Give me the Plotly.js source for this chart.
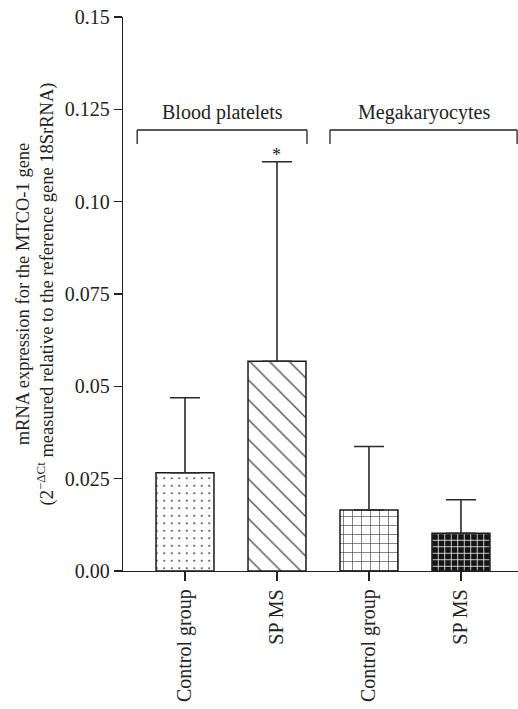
<!DOCTYPE html>
<html>
<head>
<meta charset="utf-8">
<script src="https://cdn.plot.ly/plotly-3.0.1.min.js"></script>
<style>html,body{margin:0;padding:0;background:#fff}#chart{width:518px;height:709px}</style>
</head>
<body>
<div id="chart"></div>
<script>
const categories = ["Control group", "SP MS", "Control group ", "SP MS "];
const tickLabels = ["Control group", "SP MS", "Control group", "SP MS"];
const means = [0.0266, 0.0568, 0.0165, 0.0102];
const sdUpper = [0.0203, 0.0540, 0.0172, 0.0091];
const groupNames = ["Blood platelets", "Megakaryocytes"];
const yTickVals = [0, 0.025, 0.05, 0.075, 0.10, 0.125, 0.15];
const yTickText = ["0.00", "0.025", "0.05", "0.075", "0.10", "0.125", "0.15"];
const significance = ["", "*", "", ""];

const FONT = "Liberation Serif, Times New Roman, serif";
const xIdx = categories.map((_, i) => i);

const trace = {
  type: "bar",
  x: xIdx,
  y: means,
  width: 0.63,
  marker: {
    color: ["#ffffff", "#ffffff", "#ffffff", "#151515"],
    line: {color: "#1a1a1a", width: 1.5},
    pattern: {
      shape: [".", "\\", "+", "+"],
      fgcolor: ["#000", "#000", "#000", "#ffffff"],
      bgcolor: ["#ffffff", "#ffffff", "#ffffff", "#151515"],
      fgopacity: 1,
      size: [7.5, 14, 9, 6.5],
      solidity: [0.06, 0.09, 0.14, 0.22],
      fillmode: "overlay"
    }
  },
  error_y: {
    type: "data",
    symmetric: false,
    array: sdUpper,
    arrayminus: [0, 0, 0, 0],
    color: "#2a2a2a",
    thickness: 1.6,
    width: 15
  },
  hoverinfo: "skip"
};

const shapes = [];
const annotations = [];
const brackets = [[-0.52, 1.326], [1.576, 3.61]];
brackets.forEach((b, i) => {
  shapes.push({type: "line", xref: "x", yref: "y", x0: b[0], x1: b[0], y0: 0.1156, y1: 0.1194, line: {color: "#222", width: 1.3}});
  shapes.push({type: "line", xref: "x", yref: "y", x0: b[0], x1: b[1], y0: 0.1194, y1: 0.1194, line: {color: "#222", width: 1.3}});
  shapes.push({type: "line", xref: "x", yref: "y", x0: b[1], x1: b[1], y0: 0.1156, y1: 0.1194, line: {color: "#222", width: 1.3}});
  annotations.push({x: (b[0] + b[1]) / 2, y: 0.1242, xref: "x", yref: "y", text: groupNames[i], showarrow: false, font: {family: FONT, size: 20, color: "#222"}});
});
significance.forEach((s, i) => {
  if (s) annotations.push({x: i, y: means[i] + sdUpper[i], xref: "x", yref: "y", text: s, showarrow: false, yanchor: "bottom", yshift: -5, font: {family: FONT, size: 18, color: "#222"}});
});

const layout = {
  width: 518, height: 709,
  margin: {l: 123, r: 0, t: 17, b: 138},
  paper_bgcolor: "#fff", plot_bgcolor: "#fff",
  showlegend: false,
  font: {family: FONT, size: 20, color: "#222"},
  xaxis: {
    range: [-0.674, 3.62],
    tickvals: xIdx, ticktext: tickLabels,
    tickangle: -90,
    ticks: "outside", ticklen: 9, tickwidth: 1.3, tickcolor: "#222",
    showline: true, linecolor: "#222", linewidth: 1.3,
    showgrid: false, zeroline: false,
    tickfont: {family: FONT, size: 20, color: "#222"}
  },
  yaxis: {
    range: [0, 0.15],
    tickvals: yTickVals, ticktext: yTickText,
    ticks: "outside", ticklen: 8, tickwidth: 1.3, tickcolor: "#222",
    showline: true, linecolor: "#222", linewidth: 1.3,
    showgrid: false, zeroline: false,
    tickfont: {family: FONT, size: 20, color: "#222"},
    title: {
      text: "mRNA expression for the MTCO-1 gene<br>(2<sup>−ΔCt</sup> measured relative to the reference gene 18SrRNA)",
      font: {family: FONT, size: 18.5, color: "#222"},
      standoff: 6
    }
  },
  shapes: shapes,
  annotations: annotations
};

Plotly.newPlot("chart", [trace], layout, {displayModeBar: false, staticPlot: true});
</script>
</body>
</html>
